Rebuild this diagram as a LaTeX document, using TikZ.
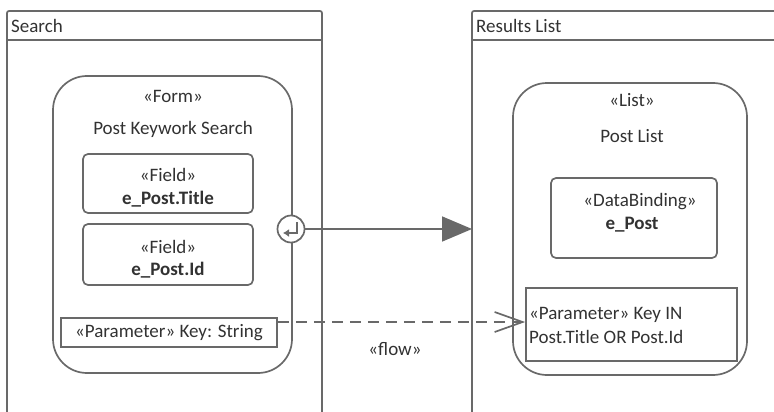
\documentclass[tikz,border=0pt]{standalone}
\usepackage{fontspec}
\setmainfont{Carlito}
\usetikzlibrary{arrows.meta}
\definecolor{ln}{RGB}{105,105,105}
\definecolor{tx}{RGB}{50,50,50}
\begin{document}
\begin{tikzpicture}[x=1pt,y=-1pt,
  every node/.style={font=\fontsize{19}{23}\selectfont, text=tx, inner sep=0pt},
  lane/.style={draw=ln, line width=1.7pt},
  bigbox/.style={draw=ln, line width=1.7pt, rounded corners=34pt, minimum width=#1},
  fieldbox/.style={draw=ln, line width=1.7pt, rounded corners=5pt},
  parambox/.style={draw=ln, line width=1.7pt},
  lbl/.style={anchor=center},
  bold/.style={font=\fontsize{19}{23}\selectfont\bfseries}
]
\useasboundingbox (0,0) rectangle (774,412);
% swimlanes
\draw[lane, rounded corners=2pt] (7,420) -- (7,11) -- (322,11) -- (322,420);
\draw[lane] (7,40) -- (322,40);
\node[anchor=west] (searchT) at (11,26) {Search};
\draw[lane, rounded corners=2pt] (472,420) -- (472,11) -- (780,11);
\draw[lane] (472,40) -- (780,40);
\node[anchor=west] (resT) at (476,26) {Results List};
\coordinate (rlane) at (472,229);
% form
\node[bigbox=239pt, minimum height=297pt] (form) at (172.5,224.5) {};
\node[lbl] (formS) at (173,96) {«Form»};
\node[lbl] (formN) at (173,129) {Post Keywork Search};
\node[fieldbox, minimum width=170pt, minimum height=59pt] (f1) at (168,183.5) {};
\node[lbl] (f1s) at (168,175) {«Field»};
\node[lbl, bold] (f1n) at (168,199) {e\_Post.Title};
\node[fieldbox, minimum width=170pt, minimum height=61pt] (f2) at (168,254.5) {};
\node[lbl] (f2s) at (168,247) {«Field»};
\node[lbl, bold] (f2n) at (168,270) {e\_Post.Id};
\node[parambox, minimum width=216pt, minimum height=29pt] (p1) at (169,332.5) {};
\node[lbl] (p1t) at (169,333) {«Parameter» Key: String};
% exit point
\node[circle, draw=ln, line width=1.7pt, fill=white, minimum size=27pt] (exit) at (291,229) {};
\draw[ln, line width=2.6pt, -{Latex[length=6pt,width=8pt]}] ([shift={(6,-7)}]exit.center) -- ([shift={(6,4)}]exit.center) -- ([shift={(-8,4)}]exit.center);
% list
\node[bigbox=234pt, minimum height=292pt] (list) at (630,229) {};
\node[lbl] (listS) at (632,100) {«List»};
\node[lbl] (listN) at (632,136) {Post List};
\node[fieldbox, minimum width=166pt, minimum height=80pt] (db) at (634,218) {};
\node[lbl] (dbs) at (640,202) {«DataBinding»};
\node[lbl, bold] (dbn) at (632,225) {e\_Post};
\node[parambox, minimum width=211pt, minimum height=73pt] (p2) at (631.5,324.5) {};
\node[anchor=west, align=left, font=\fontsize{19}{24}\selectfont] (p2t) at (529,325) {«Parameter» Key IN\\Post.Title OR Post.Id};
% connectors
\draw[ln, line width=1.7pt, -{Triangle[length=30pt,width=25pt]}] (exit.east) -- (rlane);
\draw[ln, line width=1.7pt, dash pattern=on 11pt off 7pt, -{Straight Barb[length=28pt,width=20pt,line width=1.7pt]}] (p1.east |- 0,322) -- (p2.west |- 0,322);
\node[lbl] (flow) at (395,349) {«flow»};
\end{tikzpicture}
\end{document}
